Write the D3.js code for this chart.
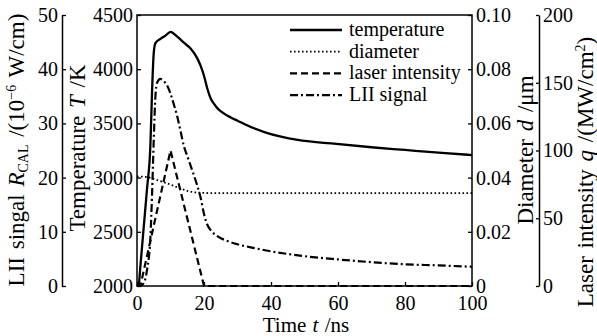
<!DOCTYPE html>
<html>
<head>
<meta charset="utf-8">
<script src="https://cdn.jsdelivr.net/npm/d3@7/dist/d3.min.js"></script>
<style>
  body { margin: 0; background: #fff; }
  svg { display: block; font-family: "Liberation Serif", "DejaVu Serif", serif; }
  .tick text { font-size: 20px; fill: #000; font-family: "Liberation Serif", serif; }
  .tick line { stroke: #000; stroke-width: 1.3; }
</style>
</head>
<body>
<script>
// time axis and tick values
const timeTicks = [0, 20, 40, 60, 80, 100];
const tempTicks = [2000, 2500, 3000, 3500, 4000, 4500];
const liiTicks = [0, 10, 20, 30, 40, 50];
const diamTicks = [0, 0.02, 0.04, 0.06, 0.08, 0.10];
const laserTicks = [0, 50, 100, 150, 200];

// temperature T (K)
const tempTime = [0, 0.5, 1, 2, 3, 4, 4.5, 5, 5.5, 7, 8.5, 10, 12, 14, 16, 18, 19, 20, 21, 22, 23, 24, 26, 28, 30, 33, 38, 43, 48, 58, 70, 80, 90, 100];
const tempValues = [2000, 2010, 2180, 2540, 2900, 3300, 3800, 4150, 4240, 4280, 4310, 4345, 4300, 4245, 4190, 4100, 4030, 3940, 3820, 3730, 3680, 3640, 3590, 3555, 3525, 3480, 3420, 3377, 3347, 3315, 3280, 3255, 3230, 3208];

// diameter d (um)
const diamTime = [0, 3, 5, 7.5, 10, 12.5, 15, 17, 19, 22, 100];
const diamValues = [0.0404, 0.0402, 0.0395, 0.0385, 0.0374, 0.0362, 0.0351, 0.0346, 0.0344, 0.0343, 0.0343];

// laser intensity q (MW/cm2)
const laserTime = [0, 1, 10, 20, 100];
const laserValues = [0, 0, 100, 0, 0];

// LII signal R_CAL
const liiTime = [0, 1, 2, 3, 4, 4.5, 5, 5.5, 6, 7, 8, 9, 10, 11, 12, 13, 14, 15, 16, 17, 18, 19, 20, 21, 22, 24, 27, 30, 35, 40, 50, 60, 70, 80, 90, 100];
const liiValues = [0, 0, 0.5, 3, 9, 17, 27, 35, 37.5, 38.2, 37.8, 37, 35.5, 33.5, 31.3, 28.6, 25.8, 24, 22.2, 20.4, 18.5, 16.3, 13.3, 11.3, 10.3, 9.2, 8.3, 7.7, 7, 6.4, 5.5, 4.9, 4.4, 4.0, 3.8, 3.55];

const legendLabels = ["temperature", "diameter", "laser intensity", "LII signal"];

const width = 597, height = 336;
const plotLeft = 137, plotRight = 472, plotTop = 15, plotBottom = 286;

const svg = d3.select("body").append("svg")
  .attr("width", width)
  .attr("height", height);

const x = d3.scaleLinear().domain([0, 100]).range([plotLeft, plotRight]);
const yT = d3.scaleLinear().domain([2000, 4500]).range([plotBottom, plotTop]);
const yR = d3.scaleLinear().domain([0, 50]).range([plotBottom, plotTop]);
const yD = d3.scaleLinear().domain([0, 0.1]).range([plotBottom, plotTop]);
const yQ = d3.scaleLinear().domain([0, 200]).range([plotBottom, plotTop]);

// frame
svg.append("rect")
  .attr("x", plotLeft).attr("y", plotTop)
  .attr("width", plotRight - plotLeft).attr("height", plotBottom - plotTop)
  .attr("fill", "none").attr("stroke", "#000").attr("stroke-width", 1.5);

function drawAxis(axis, tx, ty, keepDomain) {
  const g = svg.append("g").attr("transform", `translate(${tx},${ty})`).call(axis);
  g.attr("font-family", null).attr("font-size", null);
  if (keepDomain) {
    g.select(".domain").attr("stroke", "#000").attr("stroke-width", 1.5);
  } else {
    g.select(".domain").remove();
  }
  g.selectAll(".tick text").attr("fill", "#000");
  return g;
}

const plain = d3.format("d");

// bottom time axis
drawAxis(d3.axisBottom(x).tickValues(timeTicks).tickFormat(plain).tickSizeInner(-4).tickSizeOuter(0).tickPadding(10), 0, plotBottom, false);
// temperature axis on the frame
drawAxis(d3.axisLeft(yT).tickValues(tempTicks).tickFormat(plain).tickSizeInner(-4).tickSizeOuter(0).tickPadding(4), plotLeft, 0, false);
// LII axis, offset to the left
drawAxis(d3.axisLeft(yR).tickValues(liiTicks).tickFormat(plain).tickSizeInner(-4).tickSizeOuter(0).tickPadding(4), 62, 0, true);
// diameter axis on the right side of the frame
drawAxis(d3.axisRight(yD).tickValues(diamTicks).tickSizeInner(-4).tickSizeOuter(0).tickPadding(4)
  .tickFormat(d => d === 0 ? "0" : d3.format(".2f")(d)), plotRight, 0, false);
// laser axis, offset to the right
drawAxis(d3.axisRight(yQ).tickValues(laserTicks).tickFormat(plain).tickSizeInner(-3).tickSizeOuter(0).tickPadding(4), 539, 0, true);

// series
const series = [
  { t: tempTime, v: tempValues, y: yT, dash: null, w: 2.3, curve: d3.curveMonotoneX },
  { t: diamTime, v: diamValues, y: yD, dash: "1.6,2.4", w: 1.8, curve: d3.curveMonotoneX },
  { t: laserTime, v: laserValues, y: yQ, dash: "7,4", w: 2.2, curve: d3.curveLinear },
  { t: liiTime, v: liiValues, y: yR, dash: "8,3,2,3", w: 2.2, curve: d3.curveMonotoneX }
];

series.forEach(s => {
  const pts = s.t.map((t, i) => [t, s.v[i]]);
  const line = d3.line().x(d => x(d[0])).y(d => s.y(d[1])).curve(s.curve);
  svg.append("path")
    .attr("d", line(pts))
    .attr("fill", "none")
    .attr("stroke", "#000")
    .attr("stroke-width", s.w)
    .attr("stroke-dasharray", s.dash);
});

// legend
const legend = svg.append("g");
legendLabels.forEach((label, i) => {
  const ly = 30 + i * 21.7;
  legend.append("line")
    .attr("x1", 290).attr("x2", 342).attr("y1", ly).attr("y2", ly)
    .attr("stroke", "#000")
    .attr("stroke-width", series[i].w)
    .attr("stroke-dasharray", series[i].dash);
  legend.append("text")
    .attr("x", 349).attr("y", ly).attr("dy", "0.3em")
    .attr("font-size", 20)
    .text(label);
});

// axis titles
const xTitle = svg.append("text")
  .attr("x", 306).attr("y", 332)
  .attr("text-anchor", "middle").attr("font-size", 21)
  .attr("word-spacing", 1);
xTitle.append("tspan").text("Time ");
xTitle.append("tspan").attr("font-style", "italic").text("t");
xTitle.append("tspan").text(" /ns");

function vTitle(cx, cy, size) {
  return svg.append("text")
    .attr("transform", `translate(${cx},${cy}) rotate(-90)`)
    .attr("text-anchor", "middle")
    .attr("font-size", size)
    .attr("word-spacing", 2);
}

const liiTitle = vTitle(24, 150, 23);
liiTitle.append("tspan").text("LII singal ");
liiTitle.append("tspan").attr("font-style", "italic").text("R");
liiTitle.append("tspan").attr("font-size", 14).attr("dy", 4).text("CAL");
liiTitle.append("tspan").attr("dy", -4).text(" /(10");
liiTitle.append("tspan").attr("font-size", 14).attr("dy", -8).text("−6");
liiTitle.append("tspan").attr("dy", 8).text(" W/cm)");

const tTitle = vTitle(85, 148, 23);
tTitle.append("tspan").text("Temperature ");
tTitle.append("tspan").attr("font-style", "italic").text("T");
tTitle.append("tspan").text(" /K");

const dTitle = vTitle(533, 150, 23);
dTitle.append("tspan").text("Diameter ");
dTitle.append("tspan").attr("font-style", "italic").text("d");
dTitle.append("tspan").text(" /μm");

const qTitle = vTitle(593, 172, 23);
qTitle.append("tspan").text("Laser intensity ");
qTitle.append("tspan").attr("font-style", "italic").text("q");
qTitle.append("tspan").text(" /(MW/cm");
qTitle.append("tspan").attr("font-size", 14).attr("dy", -8).text("2");
qTitle.append("tspan").attr("dy", 8).text(")");
</script>
</body>
</html>
